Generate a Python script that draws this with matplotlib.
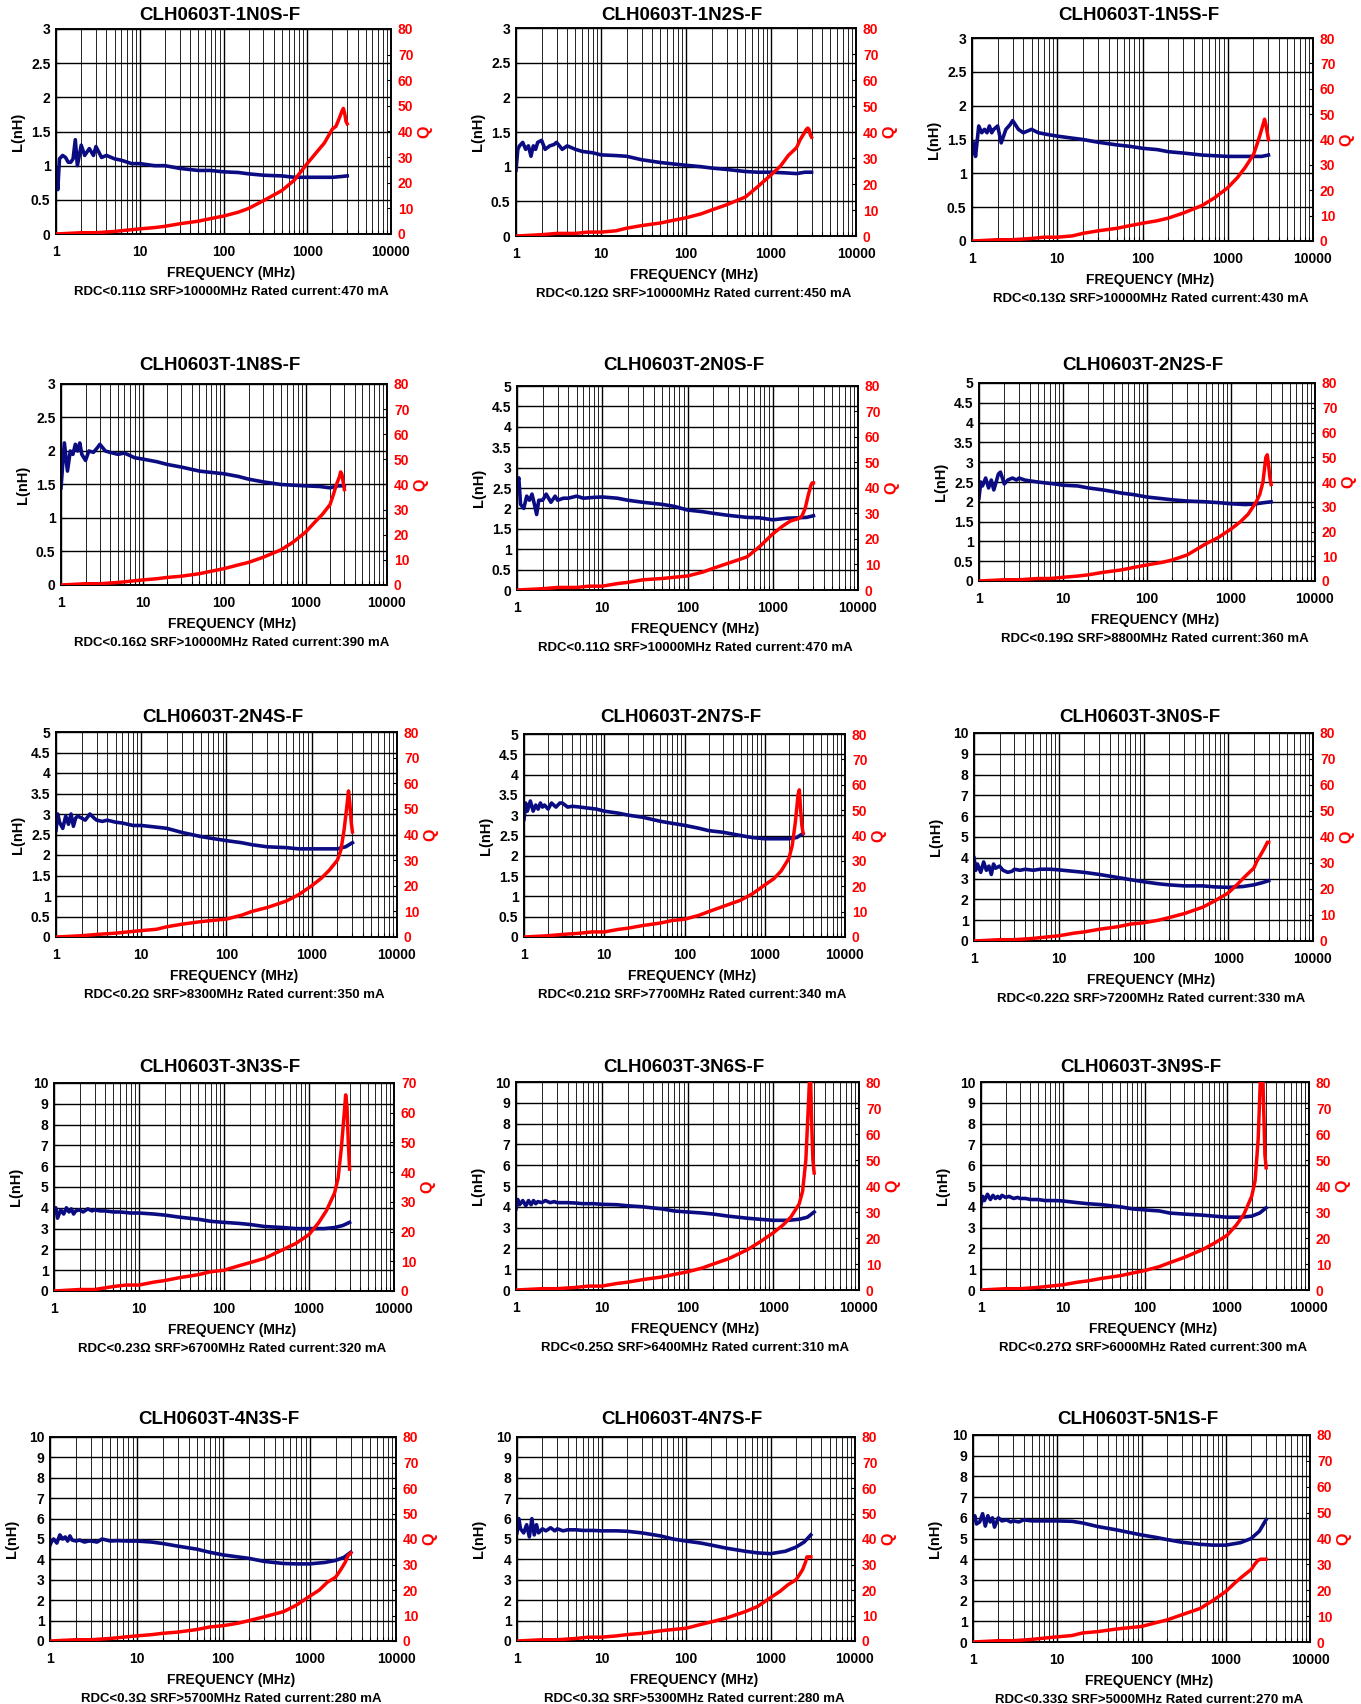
import matplotlib
matplotlib.use('Agg')
import matplotlib.pyplot as plt
from matplotlib.ticker import FuncFormatter, LogLocator, NullFormatter
import numpy as np

plt.rcParams['font.family'] = ['Liberation Sans', 'DejaVu Sans']
plt.rcParams['font.weight'] = 'bold'

W, H = 1361, 1704

parts = ['CLH0603T-1N0S-F', 'CLH0603T-1N2S-F', 'CLH0603T-1N5S-F',
         'CLH0603T-1N8S-F', 'CLH0603T-2N0S-F', 'CLH0603T-2N2S-F',
         'CLH0603T-2N4S-F', 'CLH0603T-2N7S-F', 'CLH0603T-3N0S-F',
         'CLH0603T-3N3S-F', 'CLH0603T-3N6S-F', 'CLH0603T-3N9S-F',
         'CLH0603T-4N3S-F', 'CLH0603T-4N7S-F', 'CLH0603T-5N1S-F']

notes = ['RDC<0.11Ω SRF>10000MHz Rated current:470 mA',
         'RDC<0.12Ω SRF>10000MHz Rated current:450 mA',
         'RDC<0.13Ω SRF>10000MHz Rated current:430 mA',
         'RDC<0.16Ω SRF>10000MHz Rated current:390 mA',
         'RDC<0.11Ω SRF>10000MHz Rated current:470 mA',
         'RDC<0.19Ω SRF>8800MHz Rated current:360 mA',
         'RDC<0.2Ω SRF>8300MHz Rated current:350 mA',
         'RDC<0.21Ω SRF>7700MHz Rated current:340 mA',
         'RDC<0.22Ω SRF>7200MHz Rated current:330 mA',
         'RDC<0.23Ω SRF>6700MHz Rated current:320 mA',
         'RDC<0.25Ω SRF>6400MHz Rated current:310 mA',
         'RDC<0.27Ω SRF>6000MHz Rated current:300 mA',
         'RDC<0.3Ω SRF>5700MHz Rated current:280 mA',
         'RDC<0.3Ω SRF>5300MHz Rated current:280 mA',
         'RDC<0.33Ω SRF>5000MHz Rated current:270 mA']

# frequency points (MHz) for the inductance traces
freq_l = [1, 1.05, 1.1, 1.2, 1.3, 1.4, 1.5, 1.6, 1.7, 1.8, 2, 2.2, 2.5, 2.8, 3,
          3.5, 4, 5, 6, 8, 10, 15, 20, 30, 50, 70, 100, 150, 200, 300, 500,
          700, 1000, 1500, 2000, 2500, 3000]

# frequency points (MHz) for the Q traces
freq_q = [1, 2, 3, 5, 7, 10, 15, 20, 30, 50, 70, 100, 150, 200, 300, 500, 700,
          1000, 1300, 1600, 2000, 2200, 2400, 2600, 2700, 2800, 2900, 3000]

ind = [
    [0.95, 0.65, 1.1, 1.15, 1.12, 1.05, 1.05, 1.1, 1.38, 1.0, 1.3, 1.15, 1.25, 1.15, 1.28, 1.12, 1.15, 1.1, 1.08, 1.03, 1.03, 1.0, 1.0, 0.96, 0.93, 0.93, 0.91, 0.9, 0.88, 0.86, 0.85, 0.83, 0.83, 0.83, 0.83, 0.84, 0.85],
    [0.95, 1.25, 1.3, 1.35, 1.25, 1.3, 1.15, 1.3, 1.25, 1.35, 1.38, 1.25, 1.3, 1.32, 1.35, 1.25, 1.3, 1.25, 1.22, 1.2, 1.17, 1.16, 1.15, 1.1, 1.06, 1.04, 1.02, 1.0, 0.98, 0.96, 0.93, 0.92, 0.92, 0.91, 0.9, 0.92, 0.92],
    [1.3, 1.45, 1.25, 1.7, 1.6, 1.65, 1.6, 1.7, 1.6, 1.65, 1.7, 1.45, 1.65, 1.72, 1.78, 1.65, 1.6, 1.65, 1.6, 1.57, 1.55, 1.52, 1.5, 1.46, 1.42, 1.4, 1.37, 1.35, 1.32, 1.3, 1.27, 1.26, 1.25, 1.25, 1.25, 1.25, 1.27],
    [1.45, 1.8, 2.12, 1.7, 2.0, 1.95, 2.1, 2.0, 2.12, 1.95, 1.86, 2.0, 1.98, 2.05, 2.1, 2.0, 1.98, 1.95, 1.97, 1.9, 1.88, 1.84, 1.8, 1.76, 1.7, 1.68, 1.66, 1.62, 1.58, 1.54, 1.5, 1.49, 1.48, 1.47, 1.45, 1.48, 1.48],
    [2.6, 2.75, 2.1, 2.0, 2.3, 2.2, 2.35, 2.1, 1.85, 2.2, 2.2, 2.35, 2.15, 2.3, 2.2, 2.25, 2.25, 2.3, 2.25, 2.27, 2.28, 2.25, 2.2, 2.15, 2.1, 2.05, 1.96, 1.92, 1.88, 1.83, 1.78, 1.77, 1.72, 1.76, 1.77, 1.78, 1.82],
    [2.1, 2.5, 2.4, 2.6, 2.35, 2.55, 2.3, 2.5, 2.7, 2.75, 2.45, 2.55, 2.6, 2.55, 2.6, 2.55, 2.53, 2.5, 2.48, 2.45, 2.42, 2.4, 2.35, 2.3, 2.22, 2.18, 2.12, 2.08, 2.05, 2.02, 2.0, 1.98, 1.95, 1.93, 1.95, 1.98, 2.0],
    [2.6, 3.0, 2.8, 2.65, 2.95, 2.75, 3.0, 2.7, 2.9, 2.95, 2.9, 2.85, 3.0, 2.9, 2.85, 2.82, 2.85, 2.8, 2.78, 2.72, 2.72, 2.68, 2.65, 2.55, 2.45, 2.4, 2.35, 2.3, 2.25, 2.2, 2.18, 2.15, 2.15, 2.15, 2.15, 2.2, 2.3],
    [2.9, 3.3, 3.1, 3.35, 3.1, 3.25, 3.15, 3.3, 3.2, 3.25, 3.15, 3.3, 3.2, 3.3, 3.3, 3.2, 3.22, 3.2, 3.18, 3.15, 3.1, 3.05, 3.0, 2.95, 2.85, 2.8, 2.75, 2.68, 2.62, 2.58, 2.5, 2.45, 2.42, 2.42, 2.42, 2.45, 2.55],
    [4.0, 3.4, 3.7, 3.3, 3.8, 3.4, 3.6, 3.2, 3.7, 3.5, 3.6, 3.4, 3.3, 3.35, 3.45, 3.4, 3.45, 3.4, 3.45, 3.45, 3.42, 3.35, 3.3, 3.2, 3.05, 2.95, 2.85, 2.75, 2.7, 2.65, 2.65, 2.6, 2.58, 2.62, 2.7, 2.8, 2.9],
    [3.8, 4.0, 3.5, 3.9, 3.7, 4.0, 3.8, 3.95, 3.7, 3.85, 3.9, 3.8, 3.95, 3.85, 3.9, 3.85, 3.85, 3.8, 3.8, 3.75, 3.75, 3.7, 3.65, 3.55, 3.45, 3.35, 3.3, 3.25, 3.2, 3.1, 3.05, 3.0, 3.0, 3.0, 3.05, 3.15, 3.3],
    [3.9, 4.35, 4.1, 4.3, 4.05, 4.3, 4.1, 4.3, 4.15, 4.25, 4.2, 4.3, 4.2, 4.25, 4.2, 4.2, 4.2, 4.18, 4.15, 4.15, 4.12, 4.1, 4.05, 4.0, 3.9, 3.8, 3.75, 3.7, 3.65, 3.55, 3.45, 3.4, 3.35, 3.35, 3.4, 3.5, 3.75],
    [4.1, 4.5, 4.3, 4.6, 4.35, 4.55, 4.4, 4.5, 4.4, 4.55, 4.45, 4.5, 4.4, 4.45, 4.4, 4.4, 4.35, 4.35, 4.3, 4.3, 4.28, 4.2, 4.15, 4.1, 4.0, 3.9, 3.85, 3.8, 3.7, 3.65, 3.6, 3.55, 3.5, 3.5, 3.55, 3.7, 3.95],
    [4.7, 4.9, 5.0, 4.8, 5.2, 5.0, 5.1, 4.9, 5.15, 4.95, 4.9, 4.95, 4.85, 4.9, 4.9, 4.85, 5.0, 4.9, 4.92, 4.9, 4.9, 4.85, 4.78, 4.65, 4.5, 4.35, 4.22, 4.12, 4.05, 3.9, 3.8, 3.78, 3.78, 3.85, 3.95, 4.1, 4.35],
    [5.3, 6.0, 5.5, 5.3, 5.7, 5.1, 6.0, 5.2, 5.7, 5.3, 5.5, 5.4, 5.55, 5.4, 5.5, 5.4, 5.45, 5.45, 5.42, 5.42, 5.4, 5.4, 5.38, 5.3, 5.15, 5.0, 4.9, 4.8, 4.7, 4.55, 4.4, 4.32, 4.28, 4.4, 4.6, 4.85, 5.2],
    [5.9, 6.1, 5.7, 5.8, 6.2, 5.6, 6.1, 5.8, 6.0, 5.55, 6.0, 5.85, 5.9, 5.8, 5.85, 5.8, 5.9, 5.85, 5.85, 5.85, 5.85, 5.83, 5.75, 5.58, 5.42, 5.3, 5.17, 5.05, 4.95, 4.82, 4.72, 4.68, 4.68, 4.8, 5.0, 5.35, 5.9],
]

qf = [
    [0, 0.5, 0.5, 1, 1.5, 2, 2.5, 3, 4, 5, 6, 7, 8.5, 10, 13, 17, 21, 27.5, 32, 35.5, 41, 42, 45, 48, 49, 47, 44, 43],
    [0, 0.5, 1, 1, 1.5, 1.5, 2, 3, 4, 5, 6, 7, 8.5, 10, 12, 15, 19, 23.5, 27, 31, 34, 37, 39, 41, 41.5, 41, 39, 38],
    [0, 0.5, 0.5, 1, 1.5, 1.5, 2, 3, 4, 5, 6, 7, 8, 9, 11, 14, 17, 21, 25, 29, 34, 38, 42, 46, 48, 46, 43, 40],
    [0, 0.5, 0.5, 1, 1.5, 2, 2.5, 3, 3.5, 4.5, 5.5, 6.5, 8, 9, 11, 14, 17, 21, 25, 28, 32, 36, 40, 43, 45, 44, 41, 38],
    [0, 0.5, 1, 1, 1.5, 1.5, 2.5, 3, 4, 4.5, 5, 5.5, 7, 8.5, 10.5, 13, 17, 22, 25, 27, 28, 29, 32, 37, 39, 41, 42, 42],
    [0, 0.5, 0.5, 1, 1, 1.5, 2, 2.5, 3.5, 4.5, 5.5, 6.5, 7.5, 8.5, 10.5, 15, 17.5, 21, 24, 27, 32, 35, 40, 50, 51, 47, 42, 39],
    [0, 0.5, 1, 1.5, 2, 2.5, 3, 4, 5, 6, 6.5, 7, 8.5, 10, 11.5, 14, 16.5, 20, 23, 26, 30, 34, 42, 52, 57, 52, 45, 41],
    [0, 0.5, 1, 1.5, 2, 2, 3, 3.5, 4.5, 5.5, 6.5, 7, 8.5, 10, 12, 14.5, 17, 20.5, 23, 26, 31, 36, 45, 56, 58, 50, 44, 41],
    [0, 0.5, 0.5, 1, 1.5, 2, 3, 3.5, 4.5, 5.5, 6.5, 7, 8, 9, 10.5, 13, 15.5, 18.5, 22, 25, 28, 31, 33, 35, 36, 37, 38, 38],
    [0, 0.5, 0.5, 1.5, 2, 2, 3, 3.5, 4.5, 5.5, 6.5, 7, 8.5, 9.5, 11, 14, 16, 19, 23, 27, 33, 38, 48, 60, 66, 62, 50, 41],
    [0, 0.5, 0.5, 1, 1.5, 1.5, 2.5, 3, 4, 5, 6, 7, 8.5, 10, 12, 15.5, 18.5, 22, 25, 28, 33, 38, 50, 75, 88, 65, 50, 45],
    [0, 0.5, 0.5, 1, 1.5, 2, 3, 3.5, 4.5, 5.5, 6.5, 7.5, 9, 10.5, 12.5, 15.5, 18, 21, 25, 29, 36, 42, 58, 88, 90, 70, 52, 47],
    [0, 0.5, 0.5, 1, 1.5, 2, 2.5, 3, 3.5, 4.5, 5.5, 6, 7, 8, 9.5, 11.5, 14, 17.5, 20, 23, 25, 27, 29, 31, 32.5, 33.5, 34, 34.5],
    [0, 0.5, 0.5, 1, 1.5, 1.5, 2, 2.5, 3, 4, 4.5, 5, 6.5, 7.5, 9, 11.5, 13.5, 17, 19.5, 22, 24, 26, 28, 31, 33, 33, 33, 33],
    [0, 0.5, 0.5, 1, 1.5, 2, 2.5, 3.5, 4, 5, 5.5, 6, 7.5, 8.5, 10.5, 13, 16, 19.5, 23, 25.5, 28, 30, 31.5, 32, 32, 32, 32, 32],
]

l_max = [3, 3, 3, 3, 5, 5, 5, 5, 10, 10, 10, 10, 10, 10, 10]
q_max = [80, 80, 80, 80, 80, 80, 80, 80, 80, 70, 80, 80, 80, 80, 80]

# axes boxes in pixels: left, right, top, bottom
boxes = [(56, 391, 29, 234), (516, 856, 28, 236), (972, 1313, 38, 241),
         (61, 387, 384, 585), (517, 858, 386, 590), (979, 1315, 383, 581),
         (56, 397, 732, 937), (524, 845, 734, 937), (974, 1313, 733, 941),
         (54, 394, 1083, 1291), (516, 859, 1082, 1290), (981, 1309, 1082, 1290),
         (50, 396, 1437, 1641), (517, 855, 1437, 1641), (973, 1310, 1435, 1642)]
title_y = [15, 365, 717, 1068, 1420]

NAVY = '#0c0c82'
fmt = FuncFormatter(lambda v, p: f'{v:g}')

fig = plt.figure(figsize=(W / 100, H / 100), dpi=100)

def fy(py):
    return 1 - py / H

for i, part in enumerate(parts):
    l, r, t, b = boxes[i]
    ax = fig.add_axes([l / W, 1 - b / H, (r - l) / W, (b - t) / H])
    ax.set_xscale('log')
    ax.set_xlim(1, 10000)
    ax.set_ylim(0, l_max[i])
    step = 0.5 if l_max[i] <= 5 else 1
    ax.set_yticks(np.arange(0, l_max[i] + 1e-9, step))
    ax.yaxis.set_major_formatter(fmt)
    ax.xaxis.set_major_locator(LogLocator(base=10, numticks=10))
    ax.xaxis.set_minor_locator(LogLocator(base=10, subs=range(2, 10), numticks=50))
    ax.xaxis.set_major_formatter(fmt)
    ax.xaxis.set_minor_formatter(NullFormatter())
    ax.grid(True, which='major', axis='both', color='black', lw=1.0)
    ax.grid(True, which='minor', axis='x', color='black', lw=0.6)
    ax.tick_params(axis='both', which='both', direction='in', length=3,
                   labelsize=10, width=0.8)
    ax.tick_params(axis='x', which='major', pad=8)
    ax.tick_params(axis='y', pad=4)
    for sp in ax.spines.values():
        sp.set_linewidth(1.2)
    ax.plot(freq_l, ind[i], color=NAVY, lw=2.6, zorder=3)

    qx = ax.twinx()
    qx.set_ylim(0, q_max[i])
    qx.set_yticks(np.arange(0, q_max[i] + 1, 10))
    qx.yaxis.set_major_formatter(fmt)
    qx.tick_params(axis='y', direction='in', length=3, labelsize=10,
                   colors='red', pad=5)
    qx.tick_params(axis='y', color='black')
    for sp in qx.spines.values():
        sp.set_linewidth(1.2)
    qx.plot(freq_q, qf[i], color='red', lw=2.5, zorder=3)

    cx = (l + r) / 2 / W
    fig.text(cx - 4 / W, fy(title_y[i // 3]), part, ha='center', va='center',
             fontsize=13.5, weight='bold')
    fig.text(cx + 8 / W, fy(b + 39), 'FREQUENCY (MHz)', ha='center', va='center',
             fontsize=10, weight='bold')
    fig.text(cx + 8 / W, fy(b + 58), notes[i], ha='center', va='center',
             fontsize=9.5, weight='bold')
    fig.text((l - 38) / W, fy((t + b) / 2), 'L(nH)', ha='center', va='center',
             rotation=90, fontsize=10.5, weight='bold')
    fig.text((r + 34) / W, fy((t + b) / 2), 'Q', ha='center', va='center',
             rotation=90, fontsize=11.5, weight='bold', color='red')

fig.savefig('out.png', dpi=100, facecolor='white')
